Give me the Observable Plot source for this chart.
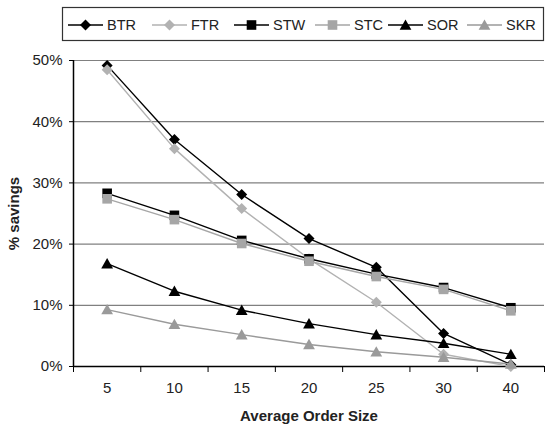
<!DOCTYPE html>
<html><head><meta charset="utf-8">
<script src="https://cdn.jsdelivr.net/npm/d3@7"></script>
<script src="https://cdn.jsdelivr.net/npm/@observablehq/plot@0.6"></script>
<style>
body{margin:0;background:#fff;font-family:"Liberation Sans",Arial,sans-serif;color:#222;}
#legend{height:45px;width:545px;display:block}
#chart svg{display:block}
</style></head><body>
<svg id="legend" width="545" height="45"></svg>
<div id="chart"></div>
<script>
// ---- data ----
const orderSizes = ["5", "10", "15", "20", "25", "30", "40"];
const seriesNames = ["BTR", "FTR", "STW", "STC", "SOR", "SKR"];
const BTR = [49.2, 37.1, 28.1, 20.9, 16.2, 5.4, 0.3];
const FTR = [48.5, 35.6, 25.8, 17.6, 10.5, 2.0, 0.0];
const STW = [28.3, 24.7, 20.6, 17.6, 15.1, 12.9, 9.6];
const STC = [27.4, 24.0, 20.1, 17.2, 14.7, 12.6, 9.1];
const SOR = [16.8, 12.3, 9.2, 7.0, 5.2, 3.8, 2.0];
const SKR = [9.3, 6.9, 5.2, 3.6, 2.4, 1.5, 0.4];
const yTicks = [0, 10, 20, 30, 40, 50];
const seriesValues = [BTR, FTR, STW, STC, SOR, SKR];

// ---- style ----
function mk(fn){ return {draw(ctx, size){ fn(ctx, Math.sqrt(size / Math.PI)); }}; }
const diamond = mk((c,r)=>{c.moveTo(0,-r);c.lineTo(r,0);c.lineTo(0,r);c.lineTo(-r,0);c.closePath();});
const square = mk((c,r)=>{c.moveTo(-r,-r);c.lineTo(r,-r);c.lineTo(r,r);c.lineTo(-r,r);c.closePath();});
const triangle = mk((c,r)=>{c.moveTo(0,-r);c.lineTo(r*1.05,r*0.85);c.lineTo(-r*1.05,r*0.85);c.closePath();});
const seriesColor = ["#000000", "#b2b2b2", "#000000", "#a6a6a6", "#000000", "#9a9a9a"];
const seriesSymbol = [diamond, diamond, square, square, triangle, triangle];
const seriesR = [5.5, 5.5, 4.8, 4.8, 5.6, 5.6];
const legendX = [68, 152, 234, 315, 388, 467];

const rows = [];
seriesNames.forEach((name, k) => seriesValues[k].forEach((v, i) => rows.push({series: name, i, v})));

const marks = [
  Plot.gridY(yTicks.filter(d => d > 0), {stroke: "#808080", strokeOpacity: 1, strokeWidth: 1.2}),
  Plot.axisY({ticks: yTicks, tickFormat: d => d + "%", tickSize: 4, tickPadding: 7, fontSize: 15, label: null, stroke: "#000"}),
  Plot.axisX({ticks: d3.range(-0.5, orderSizes.length, 1), tickFormat: () => "", tickSize: 6, label: null, stroke: "#000"}),
  Plot.axisX({ticks: d3.range(orderSizes.length), tickFormat: i => orderSizes[i], tickSize: 0, tickPadding: 16, fontSize: 15, label: null}),
  Plot.ruleX([-0.5], {stroke: "#000", strokeWidth: 1.5}),
  Plot.ruleY([0], {stroke: "#000", strokeWidth: 1.5}),
  Plot.text(["% savings"], {frameAnchor: "left", dx: -59, rotate: -90, textAnchor: "middle", lineAnchor: "middle", fontWeight: "bold", fontSize: 15, fill: "#222"}),
  Plot.text(["Average Order Size"], {frameAnchor: "bottom", dy: 50, textAnchor: "middle", lineAnchor: "middle", fontWeight: "bold", fontSize: 15, fill: "#222"})
];
seriesNames.forEach((name, k) => {
  const d = rows.filter(r => r.series === name);
  marks.push(Plot.line(d, {x: "i", y: "v", stroke: seriesColor[k], strokeWidth: 1.4}));
  marks.push(Plot.dot(d, {x: "i", y: "v", symbol: seriesSymbol[k], r: seriesR[k], fill: seriesColor[k], stroke: "none"}));
});

const chart = Plot.plot({
  width: 545, height: 379,
  marginLeft: 73, marginRight: 1, marginTop: 15, marginBottom: 58,
  style: {fontFamily: "'Liberation Sans', Arial, sans-serif", color: "#222", background: "#fff"},
  x: {type: "linear", domain: [-0.5, orderSizes.length - 0.5], axis: null},
  y: {domain: [0, 50], axis: null},
  marks
});
document.getElementById("chart").appendChild(chart);

// ---- legend ----
const lg = d3.select("#legend");
lg.append("rect").attr("x", 62.5).attr("y", 7.5).attr("width", 481).attr("height", 33)
  .attr("fill", "#fff").attr("stroke", "#333").attr("stroke-width", 1.2);
seriesNames.forEach((name, k) => {
  const x0 = legendX[k], y0 = 25;
  lg.append("line").attr("x1", x0).attr("x2", x0 + 35).attr("y1", y0).attr("y2", y0)
    .attr("stroke", seriesColor[k]).attr("stroke-width", 1.5);
  lg.append("path").attr("transform", `translate(${x0 + 17.5},${y0})`)
    .attr("d", d3.symbol(seriesSymbol[k], Math.PI * seriesR[k] * seriesR[k])())
    .attr("fill", seriesColor[k]);
  lg.append("text").attr("x", x0 + 39).attr("y", y0).attr("dy", "0.35em")
    .attr("font-size", 14.5).attr("fill", "#222")
    .attr("font-family", "'Liberation Sans', Arial, sans-serif").text(name);
});
</script>
</body></html>
